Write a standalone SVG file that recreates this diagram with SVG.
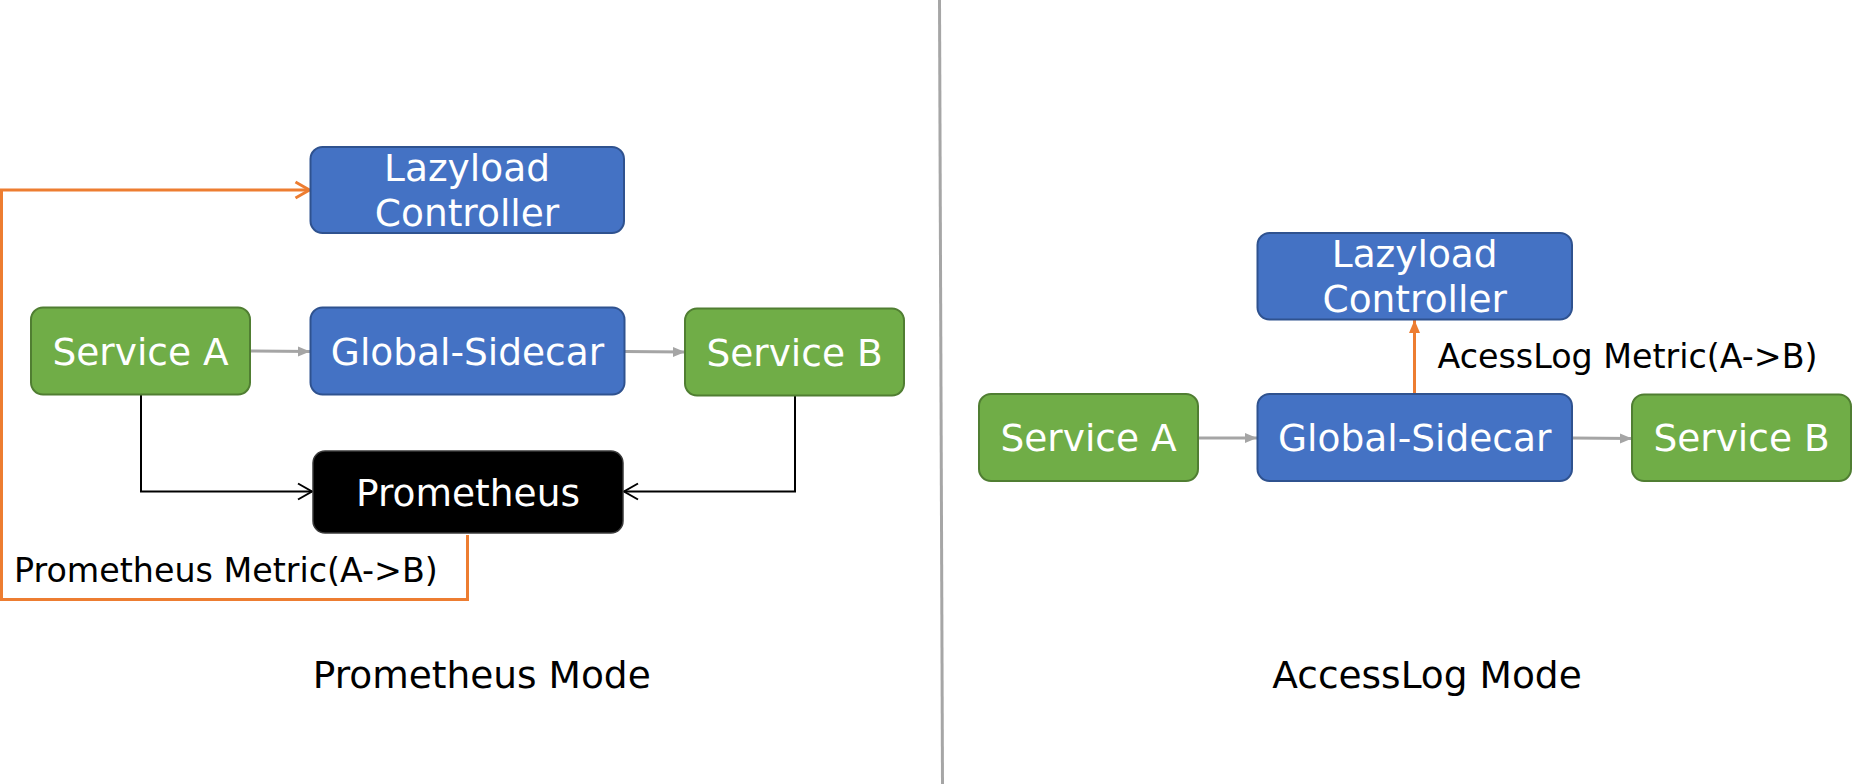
<svg xmlns="http://www.w3.org/2000/svg" width="1872" height="784" viewBox="0 0 1872 784">
<style>
  .t { font-family: "DejaVu Sans", "Noto Sans", sans-serif; }
  .node { font-size: 37.5px; fill: #ffffff; text-anchor: middle; }
  .lbl { font-size: 33.3px; fill: #000000; }
  .title { font-size: 37.5px; fill: #000000; text-anchor: middle; }
  .blue { fill: #4472C4; stroke: #2F528F; stroke-width: 2; }
  .green { fill: #70AD47; stroke: #507E32; stroke-width: 2; }
  .black { fill: #000000; stroke: #3a3a3a; stroke-width: 1.5; }
  .grey { fill: none; stroke: #A5A5A5; stroke-width: 3; }
  .blk { fill: none; stroke: #000000; stroke-width: 2; }
  .org { fill: none; stroke: #ED7D31; stroke-width: 3; }
</style>
<defs>
  <marker id="mGrey" markerUnits="userSpaceOnUse" markerWidth="12" markerHeight="12" refX="12" refY="6" orient="auto">
    <path d="M0,1 L12,6 L0,11 z" fill="#A5A5A5"/>
  </marker>
  <marker id="mBlk" markerUnits="userSpaceOnUse" markerWidth="18" markerHeight="20" refX="16" refY="10" orient="auto">
    <path d="M2,2 L16,10 L2,18" fill="none" stroke="#000000" stroke-width="2"/>
  </marker>
  <marker id="mOrgOpen" markerUnits="userSpaceOnUse" markerWidth="18" markerHeight="20" refX="16" refY="10" orient="auto">
    <path d="M2,2 L16,10 L2,18" fill="none" stroke="#ED7D31" stroke-width="3"/>
  </marker>
  <marker id="mOrg" markerUnits="userSpaceOnUse" markerWidth="14" markerHeight="12" refX="13" refY="6" orient="auto">
    <path d="M0,0.5 L13,6 L0,11.5 z" fill="#ED7D31"/>
  </marker>
</defs>
<rect width="1872" height="784" fill="#ffffff"/>
<line x1="939.5" y1="0" x2="942.5" y2="784" stroke="#A6A6A6" stroke-width="3"/>
<g id="connectors">
  <line class="grey" x1="250" y1="351" x2="310" y2="351.5" marker-end="url(#mGrey)"/>
  <line class="grey" x1="625" y1="351.5" x2="685" y2="352" marker-end="url(#mGrey)"/>
  <path class="blk" d="M141,395 V491.5 H312" marker-end="url(#mBlk)"/>
  <path class="blk" d="M795,395.5 V491.5 H624" marker-end="url(#mBlk)"/>
  <path class="org" d="M467.5,535 V599.5 H1.5 V190 H309.5" marker-end="url(#mOrgOpen)"/>
  <line class="grey" x1="1198" y1="438" x2="1257" y2="438" marker-end="url(#mGrey)"/>
  <line class="grey" x1="1572" y1="438" x2="1632" y2="438.5" marker-end="url(#mGrey)"/>
  <line class="org" x1="1414.5" y1="394" x2="1414.5" y2="320" marker-end="url(#mOrg)"/>
</g>
<g id="left-lazyload">
  <rect class="blue" x="310.5" y="147" width="313.5" height="86" rx="12"/>
  <text class="t node" x="467" y="181">Lazyload</text>
  <text class="t node" x="467" y="226">Controller</text>
</g>
<g id="left-service-a">
  <rect class="green" x="31" y="307.5" width="219" height="87" rx="12"/>
  <text class="t node" x="140.5" y="364.5">Service A</text>
</g>
<g id="left-global-sidecar">
  <rect class="blue" x="310.5" y="307.5" width="314" height="87" rx="12"/>
  <text class="t node" x="467.5" y="364.5">Global-Sidecar</text>
</g>
<g id="left-service-b">
  <rect class="green" x="685" y="308.5" width="219" height="87" rx="12"/>
  <text class="t node" x="794.5" y="365.5">Service B</text>
</g>
<g id="prometheus">
  <rect class="black" x="313" y="451" width="310" height="82" rx="12"/>
  <text class="t node" x="468" y="505.5">Prometheus</text>
</g>
<g id="prom-label">
  <text class="t lbl" x="14" y="582">Prometheus Metric(A-&gt;B)</text>
</g>
<g id="right-lazyload">
  <rect class="blue" x="1257.5" y="233" width="314.5" height="86.5" rx="12"/>
  <text class="t node" x="1414.7" y="266.7">Lazyload</text>
  <text class="t node" x="1414.7" y="311.7">Controller</text>
</g>
<g id="right-service-a">
  <rect class="green" x="979" y="394" width="219" height="87" rx="12"/>
  <text class="t node" x="1088.5" y="451">Service A</text>
</g>
<g id="right-global-sidecar">
  <rect class="blue" x="1257.5" y="394" width="314.5" height="87" rx="12"/>
  <text class="t node" x="1414.7" y="451">Global-Sidecar</text>
</g>
<g id="right-service-b">
  <rect class="green" x="1632" y="394.5" width="219" height="86.5" rx="12"/>
  <text class="t node" x="1741.5" y="451">Service B</text>
</g>
<g id="accesslog-label">
  <text class="t lbl" x="1437.5" y="368">AcessLog Metric(A-&gt;B)</text>
</g>
<g id="titles">
  <text class="t title" x="481.7" y="688.3">Prometheus Mode</text>
  <text class="t title" x="1427" y="688.3">AccessLog Mode</text>
</g>
</svg>
